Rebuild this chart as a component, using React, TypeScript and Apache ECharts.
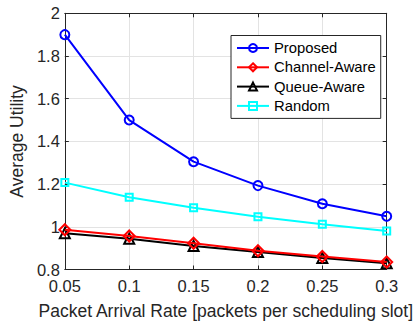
import React, { useEffect, useRef } from "react";
import * as echarts from "echarts";

const xValues = [0.05, 0.1, 0.15, 0.2, 0.25, 0.3];
const proposed = [1.9, 1.5, 1.305, 1.193, 1.108, 1.049];
const channelAware = [0.986, 0.957, 0.923, 0.888, 0.861, 0.835];
const queueAware = [0.97, 0.944, 0.91, 0.882, 0.854, 0.829];
const randomPolicy = [1.207, 1.138, 1.089, 1.047, 1.012, 0.98];

const seriesNames = ["Proposed", "Channel-Aware", "Queue-Aware", "Random"];
const seriesColors = ["#0000ff", "#ff0000", "#000000", "#00ffff"];
const seriesSymbols = ["circle", "diamond", "triangle", "rect"];
const seriesSizes = [9, 11, 10, 7];
const seriesData = [proposed, channelAware, queueAware, randomPolicy];

const FONT = "Liberation Sans";
const AX = "#262626";
const GRID = "#e3e3e3";

export default function App() {
  const ref = useRef<HTMLDivElement>(null);
  useEffect(() => {
    if (!ref.current) return;
    const chart = echarts.init(ref.current, undefined, { renderer: "svg" });
    const series = seriesData.map((vals, i) => ({
      name: seriesNames[i],
      type: "line",
      data: vals.map((v, j) => [xValues[j], v]),
      symbol: seriesSymbols[i],
      symbolSize: seriesSizes[i],
      showAllSymbol: true,
      lineStyle: { color: seriesColors[i], width: 2 },
      itemStyle: { color: "rgba(255,255,255,0)", borderColor: seriesColors[i], borderWidth: 2 },
      z: 10 - i,
    }));
    const tickStyle = { show: true, inside: true, length: 4, lineStyle: { color: AX, width: 1 } };
    chart.setOption({
      animation: false,
      backgroundColor: "#ffffff",
      grid: { left: 58, right: 32.3, top: 13.3, bottom: 55.5 },
      legend: {
        show: true,
        orient: "vertical",
        left: 231,
        top: 35.5,
        padding: [5, 5, 5, 5],
        itemWidth: 32,
        itemHeight: 10,
        itemGap: 4.3,
        backgroundColor: "#ffffff",
        borderColor: AX,
        borderWidth: 1,
        borderRadius: 0,
        textStyle: { fontFamily: FONT, fontSize: 14.8, color: "#000" },
        data: seriesNames,
      },
      xAxis: [
        {
          type: "value",
          min: 0.05,
          max: 0.3,
          interval: 0.05,
          name: "Packet Arrival Rate [packets per scheduling slot]",
          nameLocation: "middle",
          nameGap: 32,
          nameTextStyle: { fontFamily: FONT, fontSize: 17.5, color: AX },
          axisLine: { show: true, lineStyle: { color: AX, width: 1 } },
          axisTick: tickStyle,
          axisLabel: {
            fontFamily: FONT,
            fontSize: 16.5,
            color: AX,
            margin: 8,
            formatter: (v: number) => String(Math.round(v * 100) / 100),
          },
          splitLine: { show: true, lineStyle: { color: GRID, width: 1 } },
        },
        {
          type: "value",
          position: "top",
          min: 0.05,
          max: 0.3,
          interval: 0.05,
          axisLine: { show: true, lineStyle: { color: AX, width: 1 } },
          axisTick: tickStyle,
          axisLabel: { show: false },
          splitLine: { show: false },
        },
      ],
      yAxis: [
        {
          type: "value",
          min: 0.8,
          max: 2,
          interval: 0.2,
          name: "Average Utility",
          nameLocation: "middle",
          nameGap: 34,
          nameTextStyle: { fontFamily: FONT, fontSize: 17.5, color: AX },
          axisLine: { show: true, lineStyle: { color: AX, width: 1 } },
          axisTick: tickStyle,
          axisLabel: {
            fontFamily: FONT,
            fontSize: 16.5,
            color: AX,
            margin: 5,
            formatter: (v: number) => String(Math.round(v * 10) / 10),
          },
          splitLine: { show: true, lineStyle: { color: GRID, width: 1 } },
        },
        {
          type: "value",
          position: "right",
          min: 0.8,
          max: 2,
          interval: 0.2,
          axisLine: { show: true, lineStyle: { color: AX, width: 1 } },
          axisTick: tickStyle,
          axisLabel: { show: false },
          splitLine: { show: false },
        },
      ],
      series,
    });
    return () => chart.dispose();
  }, []);
  return (
    <div
      ref={ref}
      style={{ position: "fixed", left: 0, top: 0, width: 419, height: 325, background: "#fff" }}
    />
  );
}
